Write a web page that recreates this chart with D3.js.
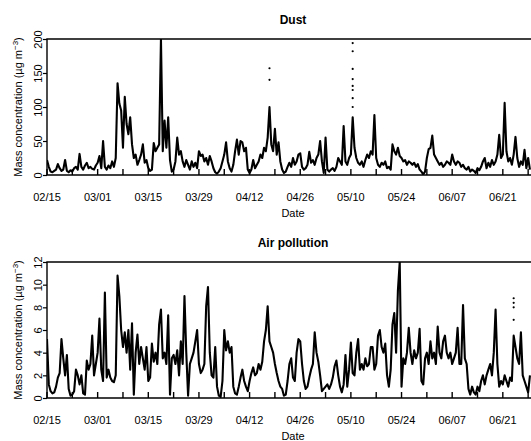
<!DOCTYPE html>
<html>
<head>
<meta charset="utf-8">
<script src="https://cdn.jsdelivr.net/npm/d3@7"></script>
<style>
  body { margin: 0; background: #fff; }
  text { font-family: "Liberation Sans", Arial, sans-serif; fill: #000; }
</style>
</head>
<body>
<div id="chart"></div>
<script>
// half-day samples starting 2010-02-15 00:00
var startDate = new Date(2010, 1, 15);
var stepHours = 12;

var dust = [
  22,12, 5,4, 6,8, 16,10, 6,8, 22,6, 4,7, 5,10, 12,8, 31,12,
  8,14, 18,10, 12,9, 8,14, 18,28, 10,50, 12,8, 14,10, 20,12, 25,135,
  105,95, 40,115, 75,60, 85,45, 25,30, 15,22, 30,45, 18,22, 10,6, 8,47,
  35,40, 45,200, 35,80, 40,85, 22,5, 8,20, 55,30, 35,20, 12,22, 15,8,
  20,12, 18,10, 35,28, 30,20, 25,15, 28,20, 10,4, 2,5, 10,20, 30,48,
  20,10, 5,15, 35,52, 30,50, 48,35, 40,8, 3,8, 22,10, 15,20, 30,25,
  40,35, 55,100, 45,35, 68,30, 48,20, 8,3, 5,12, 18,12, 25,15, 20,30,
  32,12, 8,10, 15,34, 18,22, 15,25, 30,50, 20,3, 55,8, 5,8, 10,6,
  12,25, 20,15, 72,20, 15,25, 30,85, 40,25, 18,15, 20,12, 22,30, 25,35,
  30,88, 25,15, 12,18, 15,20, 10,12, 8,45, 35,30, 40,28, 25,20, 22,15,
  20,18, 15,18, 12,16, 8,5, 1,5, 25,38, 40,58, 30,25, 20,15, 18,12,
  15,20, 18,15, 30,20, 15,20, 18,12, 15,10, 8,12, 5,8, 6,3, 10,7,
  12,20, 25,10, 18,12, 22,15, 20,30, 59,25, 30,106, 35,20, 25,15, 30,56,
  25,12, 20,15, 37,10, 25,8
];

var air = [
  5.2,1.2, 0.6,0.4, 0.5,1.0, 1.8,2.2, 5.2,3.5, 2.0,3.8, 0.8,0.2, 0.3,0.6, 2.5,2.0, 1.2,2.0,
  0.4,0.3, 3.3,2.5, 3.0,5.5, 2.0,3.0, 4.0,7.0, 2.5,1.5, 9.3,1.8, 2.5,1.8, 1.5,1.4, 2.0,10.8,
  9.0,6.0, 4.5,5.8, 4.0,6.0, 2.5,6.6, 0.3,4.0, 5.6,3.0, 4.5,3.5, 2.5,4.5, 1.5,1.8, 4.8,3.2,
  4.0,3.0, 6.5,7.8, 3.5,4.0, 3.0,7.3, 0.3,3.5, 3.8,3.0, 4.2,2.0, 5.0,3.0, 9.0,4.0, 0.2,3.0,
  3.5,4.0, 5.0,6.0, 3.0,2.2, 2.5,3.0, 8.1,9.8, 4.0,2.0, 1.8,4.5, 1.0,0.2, 0.1,1.5, 6.0,4.2,
  5.0,4.0, 4.5,1.0, 0.4,0.3, 1.0,1.8, 2.5,1.5, 1.0,0.6, 1.5,2.2, 2.7,2.0, 2.2,3.0, 2.5,3.2,
  5.0,6.0, 8.1,5.0, 4.5,4.0, 3.0,2.2, 1.5,1.0, 0.8,0.2, 0.3,1.5, 3.0,3.5, 1.8,1.5, 4.0,5.2,
  5.0,3.0, 1.5,0.8, 1.0,1.8, 2.5,3.0, 5.8,4.0, 3.2,2.0, 0.6,0.8, 1.0,1.2, 0.8,1.2, 1.8,2.8,
  3.3,2.0, 1.0,0.5, 1.2,3.8, 1.0,2.5, 4.9,2.2, 2.0,4.0, 5.2,2.5, 3.0,2.5, 3.5,2.8, 3.0,4.5,
  4.5,2.5, 3.0,5.5, 6.0,4.5, 4.0,4.8, 2.0,1.0, 2.5,6.5, 7.5,4.0, 9.5,12.0, 1.0,3.5, 3.0,4.0,
  6.2,4.0, 3.0,4.2, 3.5,4.0, 6.1,1.5, 1.2,3.5, 4.0,3.0, 5.0,3.5, 4.0,3.0, 6.3,4.0, 3.5,5.0,
  5.5,4.0, 3.5,4.0, 3.0,3.5, 4.0,6.2, 3.0,3.0, 8.2,3.5, 3.0,0.8, 0.3,1.0, 0.5,0.3, 1.0,0.6,
  1.5,2.0, 1.2,2.0, 2.5,3.0, 2.0,4.0, 7.8,3.0, 1.0,1.5, 1.2,2.0, 1.5,1.0, 1.8,1.5, 5.5,4.5,
  3.5,3.0, 5.8,2.0, 1.5,1.0, 0.5,2.0
];

// isolated readings above the dense trace: [day after start, value]
var dustDots = [
  [61.5, 157], [61.5, 140],
  [84.5, 194], [84.5, 182], [84.5, 156], [84.5, 141], [84.5, 131], [84.5, 125], [84.5, 113], [84.5, 100]
];
var airDots = [
  [129, 8.8], [129, 8.4], [129, 8.0], [129, 6.9]
];

var dateLabels = ["02/15", "03/01", "03/15", "03/29", "04/12", "04/26", "05/10", "05/24", "06/07", "06/21"];
var dustTicks = [0, 50, 100, 150, 200];
var airTicks = [0, 2, 4, 6, 8, 10, 12];

var width = 531, height = 441;
var left = 47, right = 539;

var svg = d3.select("#chart")
  .append("svg")
  .attr("width", width)
  .attr("height", height);

var parseLabel = d3.timeParse("%Y/%m/%d");
var labelDates = dateLabels.map(function(s) { return parseLabel("2010/" + s); });
var endDate = d3.timeDay.offset(startDate, 136);

var x = d3.scaleTime()
  .domain([startDate, endDate])
  .range([left, right]);

// weekly inward ticks
var weekDates = d3.range(0, 20).map(function(i) { return d3.timeDay.offset(startDate, 7 * i); })
  .filter(function(d) { return d <= endDate; });

function panel(id, values, dots, ticks, top, bottom, title) {
  var y = d3.scaleLinear()
    .domain([0, ticks[ticks.length - 1]])
    .range([bottom, top]);

  var g = svg.append("g");

  g.append("clipPath").attr("id", "clip" + id)
    .append("rect")
    .attr("x", left).attr("y", top)
    .attr("width", right - left).attr("height", bottom - top);

  var line = d3.line()
    .x(function(d, i) { return x(d3.timeHour.offset(startDate, i * stepHours)); })
    .y(function(d) { return y(d); });

  g.append("path")
    .datum(values)
    .attr("clip-path", "url(#clip" + id + ")")
    .attr("d", line)
    .attr("fill", "none")
    .attr("stroke", "#000")
    .attr("stroke-width", 2.1)
    .attr("stroke-linejoin", "round");

  g.selectAll(".dot")
    .data(dots)
    .enter().append("circle")
    .attr("cx", function(d) { return x(d3.timeHour.offset(startDate, d[0] * 24)); })
    .attr("cy", function(d) { return y(d[1]); })
    .attr("r", 1.1)
    .attr("fill", "#000");

  // frame: left, top, bottom (right side runs off the page)
  g.append("path")
    .attr("d", "M" + right + "," + top + "H" + left + "V" + bottom + "H" + right)
    .attr("fill", "none")
    .attr("stroke", "#000")
    .attr("stroke-width", 1.4);

  g.selectAll(".wk")
    .data(weekDates)
    .enter().append("line")
    .attr("x1", function(d) { return x(d); })
    .attr("x2", function(d) { return x(d); })
    .attr("y1", bottom)
    .attr("y2", bottom - 6)
    .attr("stroke", "#000")
    .attr("stroke-width", 1.4);

  g.selectAll(".xl")
    .data(labelDates)
    .enter().append("text")
    .attr("x", function(d) { return x(d); })
    .attr("y", bottom + 26)
    .attr("text-anchor", "middle")
    .style("font-size", "11px")
    .text(function(d, i) { return dateLabels[i]; });

  var yAxis = d3.axisLeft(y).tickValues(ticks).tickSize(4).tickFormat(d3.format("d"));
  var ya = g.append("g")
    .attr("transform", "translate(" + left + ",0)")
    .call(yAxis);
  ya.select(".domain").remove();
  ya.selectAll("line").attr("stroke-width", 1.2);
  ya.selectAll("text")
    .attr("x", 0).attr("y", 0).attr("dy", null)
    .attr("transform", "translate(-5,0) rotate(-90)")
    .attr("text-anchor", "middle")
    .style("font-family", "'Liberation Sans', Arial, sans-serif")
    .style("font-size", "11px");

  var yt = g.append("text")
    .attr("transform", "translate(22," + ((top + bottom) / 2) + ") rotate(-90)")
    .attr("text-anchor", "middle")
    .style("font-size", "11px");
  yt.append("tspan").text("Mass concentration (\u00b5g m");
  yt.append("tspan").attr("dy", -4).style("font-size", "8px").text("\u22123");
  yt.append("tspan").attr("dy", 4).text(")");

  g.append("text")
    .attr("x", (left + right) / 2)
    .attr("y", bottom + 42)
    .attr("text-anchor", "middle")
    .style("font-size", "11px")
    .text("Date");

  g.append("text")
    .attr("x", (left + right) / 2)
    .attr("y", top - 15)
    .attr("text-anchor", "middle")
    .style("font-size", "12px")
    .style("font-weight", "bold")
    .text(title);
}

panel("d", dust, dustDots, dustTicks, 39, 175, "Dust");
panel("a", air, airDots, airTicks, 262, 398, "Air pollution");
</script>
</body>
</html>
